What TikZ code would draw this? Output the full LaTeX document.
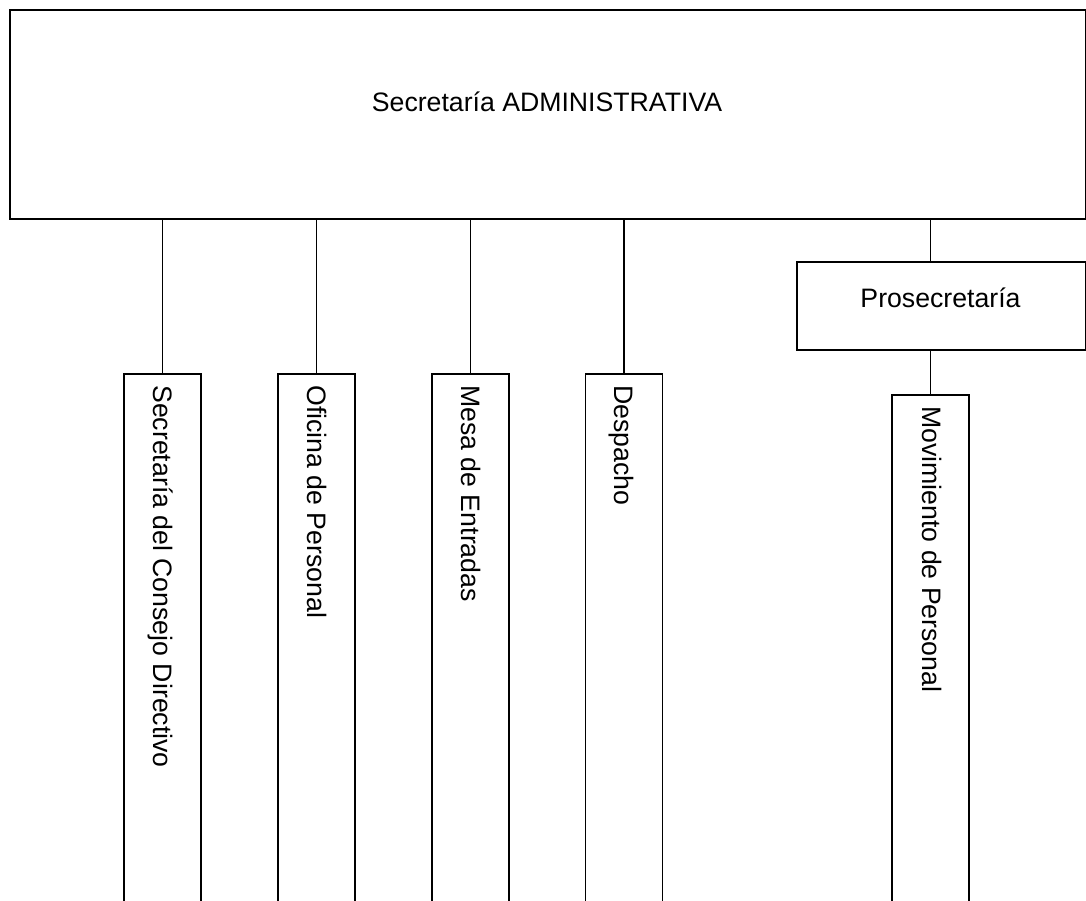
\documentclass[tikz,border=0pt]{standalone}
\usepackage{fontspec}
\setmainfont{Liberation Sans}
\begin{document}
\begin{tikzpicture}[x=1pt,y=-1pt,line width=1.6pt,
  framebox/.style={draw=black,rectangle,inner sep=0pt,anchor=north west},
  unitbox/.style={draw=black,rectangle,inner sep=0pt,anchor=north,
    minimum width=77pt,minimum height=560pt},
  hlabel/.style={anchor=base,inner sep=0pt,font=\fontsize{26.67}{32}\selectfont},
  vlabel/.style={rotate=-90,anchor=base west,inner sep=0pt,
    font=\fontsize{26.67}{32}\selectfont}]
\useasboundingbox (0,0) rectangle (1086,900);
\clip (0,0) rectangle (1086,900);

% head office
\node[framebox,minimum width=1076pt,minimum height=209pt] (admin) at (9,9) {};
\node[hlabel] (admintxt) at (547,111) {Secretaría ADMINISTRATIVA};

% deputy office
\node[framebox,minimum width=289pt,minimum height=88pt] (pro) at (796,261) {};
\node[hlabel] (protxt) at (940.5,307) {Prosecretaría};

% departments (open at the bottom edge)
\node[unitbox] (scd) at (162.5,373) {};
\node[unitbox] (ofp) at (316.5,373) {};
\node[unitbox] (mde) at (470.5,373) {};
\node[unitbox] (des) at (624,373) {};
\node[unitbox] (mov) at (930.5,394) {};

\node[vlabel] (scdtxt) at (153,384.5) {Secretaría del Consejo Directivo};
\node[vlabel] (ofptxt) at (307,384.5) {Oficina de Personal};
\node[vlabel] (mdetxt) at (461,384.5) {Mesa de Entradas};
\node[vlabel] (destxt) at (614.5,384.5) {Despacho};
\node[vlabel] (movtxt) at (922,405.5) {Movimiento de Personal};

% connectors
\draw (admin.south -| scd.north) -- (scd.north);
\draw (admin.south -| ofp.north) -- (ofp.north);
\draw (admin.south -| mde.north) -- (mde.north);
\draw (admin.south -| des.north) -- (des.north);
\draw (mov.north |- admin.south) -- (mov.north |- pro.north);
\draw (mov.north |- pro.south) -- (mov.north);
\end{tikzpicture}
\end{document}
